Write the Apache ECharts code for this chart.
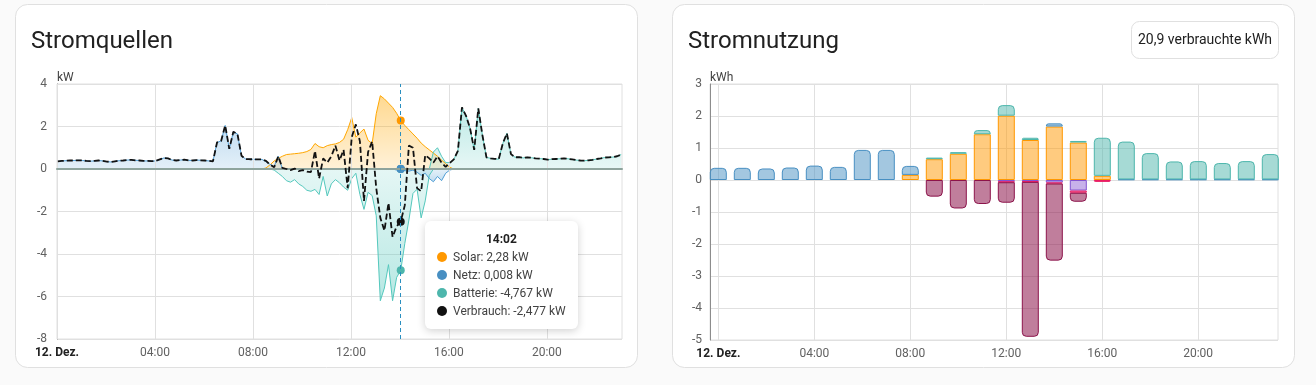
<!DOCTYPE html>
<html><head><meta charset="utf-8">
<script src="https://cdn.jsdelivr.net/npm/echarts@6.0.0/dist/echarts.min.js"></script>
<style>html,body{margin:0;padding:0;background:#fafafa;}#c{width:1316px;height:385px;}</style>
</head><body><div id="c"></div>
<script>
// ---------- Stromquellen (power, kW), 10-minute samples starting 00:02 ----------
const SAMPLE_START_MIN = 2;
const SAMPLE_STEP_MIN = 10;
const TOOLTIP_INDEX = 84; // 14:02

const netz = [
  0.36,0.38,0.39,0.40,0.40,0.41,0.40,0.38,0.37,0.38,
  0.40,0.38,0.35,0.33,0.36,0.39,0.40,0.42,0.43,0.41,
  0.40,0.38,0.38,0.37,0.38,0.45,0.52,0.50,0.42,0.40,
  0.42,0.44,0.41,0.40,0.42,0.41,0.40,0.38,0.36,1.25,
  1.32,2.05,0.95,1.75,1.65,0.62,0.47,0.46,0.46,0.45,
  0.45,0.35,0.22,0.12,0.60,0.02,0,0,0,0,
  0,0,0,0,0,0,0,0,0,0,
  0,0,0,0,0,0,0,0,0,0,
  0,0,0,-0.05,0.008,-0.08,-0.1,-0.05,-0.15,-0.3,
  -0.2,-0.45,-0.6,-0.35,-0.55,-0.2,-0.05,0,0,0,
  0,0,0,0,0,0,0,0,0,0,
  0,0,0,0,0,0,0,0,0,0,
  0,0,0,0,0,0,0,0,0,0,
  0,0,0,0,0,0,0,0,0
];
const solar = [
  0,0,0,0,0,0,0,0,0,0,
  0,0,0,0,0,0,0,0,0,0,
  0,0,0,0,0,0,0,0,0,0,
  0,0,0,0,0,0,0,0,0,0,
  0,0,0,0,0,0,0,0,0,0,
  0,0.05,0.2,0.38,0.5,0.6,0.68,0.7,0.72,0.74,
  0.77,0.82,0.92,1.2,1.05,1.0,1.1,1.15,1.18,1.25,
  1.4,1.85,2.42,1.5,1.7,1.88,1.35,1.2,2.6,3.45,
  3.3,3.1,2.9,2.62,2.28,2.05,1.85,1.65,1.45,1.22,
  1.05,0.9,0.75,0.6,0.42,0.25,0.08,0,0,0,
  0,0,0,0,0,0,0,0,0,0,
  0,0,0,0,0,0,0,0,0,0,
  0,0,0,0,0,0,0,0,0,0,
  0,0,0,0,0,0,0,0,0
];
const batterie = [
  0,0,0,0,0,0,0,0,0,0,
  0,0,0,0,0,0,0,0,0,0,
  0,0,0,0,0,0,0,0,0,0,
  0,0,0,0,0,0,0,0,0,0,
  0,0,0,0,0,0,0,0,0,0,
  0,0,0,-0.05,-0.2,-0.35,-0.55,-0.62,-0.5,-0.7,
  -0.82,-1.0,-1.05,-0.96,-1.2,-0.35,-1.27,-0.7,-0.5,-0.65,
  -0.85,-1.0,-0.45,-0.2,-1.2,-1.9,-1.1,-1.25,-2.2,-6.2,
  -5.6,-4.5,-6.2,-5.1,-4.767,-3.5,-2.4,-1.15,-0.95,-2.3,
  -1.5,-0.3,0.8,1.0,0.6,0.3,0.3,0.45,0.85,2.9,
  2.5,1.9,0.9,2.85,1.6,0.55,0.5,0.48,0.46,1.2,
  1.68,0.7,0.55,0.56,0.52,0.55,0.53,0.5,0.49,0.47,
  0.44,0.46,0.47,0.48,0.5,0.48,0.45,0.42,0.4,0.39,
  0.41,0.43,0.47,0.5,0.54,0.55,0.56,0.6,0.68
];
const verbrauch = [
  0.36,0.38,0.39,0.40,0.40,0.41,0.40,0.38,0.37,0.38,
  0.40,0.38,0.35,0.33,0.36,0.39,0.40,0.42,0.43,0.41,
  0.40,0.38,0.38,0.37,0.38,0.45,0.52,0.50,0.42,0.40,
  0.42,0.44,0.41,0.40,0.42,0.41,0.40,0.38,0.36,1.25,
  1.32,2.05,0.95,1.75,1.65,0.62,0.47,0.46,0.46,0.45,
  0.45,0.38,0.2,0.08,0.6,0.05,0,-0.05,0.02,-0.1,
  -0.05,-0.12,-0.15,0.85,-0.45,0.5,0.3,0.6,1.1,0.4,
  0.9,-0.9,1.5,2.1,1.3,-1.5,0.8,1.3,-0.9,-2.3,
  -2.9,-1.6,-3.2,-2.7,-2.477,-1.7,1.1,1.0,-0.9,-1.05,
  0.65,0.5,0.3,0.6,0.3,0.1,0.28,0.45,0.85,2.9,
  2.5,1.9,0.9,2.85,1.6,0.55,0.5,0.48,0.46,1.2,
  1.68,0.7,0.55,0.56,0.52,0.55,0.53,0.5,0.49,0.47,
  0.44,0.46,0.47,0.48,0.5,0.48,0.45,0.42,0.4,0.39,
  0.41,0.43,0.47,0.5,0.54,0.55,0.56,0.6,0.68
];
const leftTickMinutes = [0, 240, 480, 720, 960, 1200];
const leftTickLabels = ['12. Dez.', '04:00', '08:00', '12:00', '16:00', '20:00'];
const LEFT_X_MAX_MIN = 1384;
const leftYTicks = { min: -8, max: 4, step: 2 };

// ---------- Stromnutzung (energy, kWh per hour) ----------
const hours = [0,1,2,3,4,5,6,7,8,9,10,11,12,13,14,15,16,17,18,19,20,21,22,23];
const usageSolar      = [0,0,0,0,0,0,0,0,0.16,0.65,0.82,1.43,2.01,1.25,1.67,1.17,0.13,0,0,0,0,0,0,0];
const usageNetz       = [0.38,0.38,0.36,0.39,0.45,0.41,0.94,0.94,0.28,0,0,0,0,0,0.1,0,0,0.02,0.02,0.02,0.02,0.02,0.02,0.02];
const usageBatterie   = [0,0,0,0,0,0,0,0,0,0.05,0.05,0.13,0.33,0.07,0,0.05,1.19,1.18,0.82,0.56,0.57,0.51,0.57,0.79];
const usageEinspeisung= [0,0,0,0,0,0,0,0,0,0,0,0,-0.05,-0.04,-0.08,-0.33,0,0,0,0,0,0,0,0];
const usageNetzLaden  = [0,0,0,0,0,0,0,0,0,0,0,0,-0.02,-0.02,-0.03,-0.07,-0.06,0,0,0,0,0,0,0];
const usageLaden      = [0,0,0,0,0,0,0,0,0,-0.52,-0.89,-0.75,-0.64,-4.84,-2.41,-0.28,0,0,0,0,0,0,0,0];
const rightTickHours = [0, 4, 8, 12, 16, 20];
const rightTickLabels = ['12. Dez.', '04:00', '08:00', '12:00', '16:00', '20:00'];
const RIGHT_X_MIN_H = -0.35, RIGHT_X_MAX_H = 23.33;
const rightYTicks = { min: -5, max: 3, step: 1 };
const TOTAL_LABEL = '20,9 verbrauchte kWh';

// ---------- helpers ----------
const FONT = 'Roboto, sans-serif';
const C = { solar:'#ff9800', netz:'#488fc2', batt:'#4db6ac', einsp:'#8353d1', netzLaden:'#e91e63', laden:'#8c144b' };
const times = solar.map((_, i) => SAMPLE_START_MIN + i * SAMPLE_STEP_MIN);
const pad = n => String(n).padStart(2, '0');
const fmtTime = m => pad(Math.floor(m / 60)) + ':' + pad(m % 60);
const pairs = vs => vs.map((v, i) => [times[i], v]);
const pos = a => a.map(v => Math.max(v, 0));
const neg = a => a.map(v => Math.min(v, 0));
function rgba(hex, a) {
  const n = parseInt(hex.slice(1), 16);
  return `rgba(${n >> 16},${(n >> 8) & 255},${n & 255},${a})`;
}
function grad(hex, up, strong, weak) {
  const s = up ? [{ offset: 0, color: rgba(hex, strong) }, { offset: 1, color: rgba(hex, weak) }]
               : [{ offset: 0, color: rgba(hex, weak) }, { offset: 1, color: rgba(hex, strong) }];
  return new echarts.graphic.LinearGradient(0, 0, 0, 1, s);
}
function area(name, data, color, up, strong, weak) {
  return {
    name, type: 'line', xAxisIndex: 0, yAxisIndex: 0, data: pairs(data),
    showSymbol: false, symbol: 'circle', symbolSize: 8,
    lineStyle: { width: 1, color }, itemStyle: { color },
    areaStyle: { color: grad(color, up, strong, weak), origin: 0 },
    emphasis: { scale: false, lineStyle: { width: 1 } }, z: 2
  };
}
const fmtNum = v => String(v).replace('.', ',');

// bars (category grid whose bands line up with the visible hour axis)
const posStack = [['Solar', usageSolar, C.solar, 0.5], ['Netz', usageNetz, C.netz, 0.5], ['Batterie', usageBatterie, C.batt, 0.5]];
const negStack = [['Einspeisung', usageEinspeisung, C.einsp, 0.45], ['Netz → Batterie', usageNetzLaden, C.netzLaden, 0.6], ['Batterie laden', usageLaden, C.laden, 0.55]];
function barSeries(stack, positive) {
  return stack.map(([name, arr, color, alpha], si) => ({
    name, type: 'bar', xAxisIndex: 2, yAxisIndex: 2, stack: 'usage', barWidth: 17,
    itemStyle: { color: rgba(color, alpha), borderColor: color, borderWidth: 1 },
    emphasis: { disabled: true }, tooltip: { show: false },
    data: arr.map((v, i) => {
      if (!v) return '-';
      let last = -1;
      stack.forEach(([, a], k) => { if (a[i]) last = k; });
      const r = 4;
      const br = last === si ? (positive ? [r, r, 0, 0] : [0, 0, r, r]) : 0;
      return { value: v, itemStyle: { borderRadius: br } };
    })
  }));
}

const axisLabelStyle = { color: '#616161', fontSize: 12, fontFamily: FONT };
const boldRich = { d: { fontWeight: 'bold', color: '#212121', fontSize: 12, fontFamily: FONT } };
const chart = echarts.init(document.getElementById('c'), null, { renderer: 'canvas' });
chart.setOption({
  animation: false,
  backgroundColor: '#fafafa',
  textStyle: { fontFamily: FONT },
  graphic: [
    { type: 'rect', z: -5, silent: true, shape: { x: 15.5, y: 4.5, width: 622, height: 363, r: 12 }, style: { fill: '#fff', stroke: '#e0e0e0', lineWidth: 1 } },
    { type: 'rect', z: -5, silent: true, shape: { x: 672.5, y: 4.5, width: 622, height: 363, r: 12 }, style: { fill: '#fff', stroke: '#e0e0e0', lineWidth: 1 } },
    { type: 'text', silent: true, x: 31, y: 42, style: { text: 'Stromquellen', font: '24px ' + FONT, fill: '#212121', verticalAlign: 'middle' } },
    { type: 'text', silent: true, x: 688, y: 42, style: { text: 'Stromnutzung', font: '24px ' + FONT, fill: '#212121', verticalAlign: 'middle' } },
    { type: 'rect', silent: true, shape: { x: 1131.5, y: 21.5, width: 147, height: 37, r: 8 }, style: { fill: '#fff', stroke: '#e0e0e0', lineWidth: 1 } },
    { type: 'text', silent: true, x: 1205, y: 40, style: { text: TOTAL_LABEL, font: '14px ' + FONT, fill: '#212121', align: 'center', verticalAlign: 'middle' } }
  ],
  grid: [
    { left: 57, top: 84, width: 565, height: 255, show: true, borderColor: '#e0e0e0', borderWidth: 1, backgroundColor: 'transparent' },
    { left: 710, top: 84, width: 568, height: 256, show: true, borderColor: '#e0e0e0', borderWidth: 1, backgroundColor: 'transparent' },
    { left: 706.3, top: 84, width: 576, height: 256, show: false }
  ],
  xAxis: [
    {
      gridIndex: 0, type: 'value', min: 0, max: LEFT_X_MAX_MIN, z: 3,
      axisLine: { show: true, onZero: true, lineStyle: { color: '#8ea49d', width: 2 } },
      axisTick: { show: false, customValues: leftTickMinutes },
      splitLine: { show: true, lineStyle: { color: '#e0e0e0' } },
      axisLabel: Object.assign({}, axisLabelStyle, {
        customValues: leftTickMinutes, margin: 8,
        formatter: v => { const i = leftTickMinutes.indexOf(v); return i === 0 ? '{d|' + leftTickLabels[0] + '}' : leftTickLabels[i]; },
        rich: boldRich
      })
    },
    {
      gridIndex: 1, type: 'value', min: RIGHT_X_MIN_H, max: RIGHT_X_MAX_H,
      axisLine: { show: false },
      axisTick: { show: false, customValues: rightTickHours },
      splitLine: { show: true, lineStyle: { color: '#e0e0e0' } },
      axisLabel: Object.assign({}, axisLabelStyle, {
        customValues: rightTickHours, margin: 8,
        formatter: v => { const i = rightTickHours.indexOf(v); return i === 0 ? '{d|' + rightTickLabels[0] + '}' : rightTickLabels[i]; },
        rich: boldRich
      })
    },
    { gridIndex: 2, type: 'category', data: hours, boundaryGap: true, show: false }
  ],
  yAxis: [
    {
      gridIndex: 0, type: 'value', min: leftYTicks.min, max: leftYTicks.max, interval: leftYTicks.step,
      name: 'kW', nameLocation: 'end', nameGap: 0,
      nameTextStyle: { align: 'left', color: '#424242', fontSize: 12, fontFamily: FONT },
      axisLine: { show: true, onZero: false, lineStyle: { color: '#8c8c8c' } },
      axisTick: { show: false },
      splitLine: { lineStyle: { color: '#e0e0e0' } },
      axisLabel: Object.assign({}, axisLabelStyle, { margin: 10 })
    },
    {
      gridIndex: 1, type: 'value', min: rightYTicks.min, max: rightYTicks.max, interval: rightYTicks.step,
      name: 'kWh', nameLocation: 'end', nameGap: 0,
      nameTextStyle: { align: 'left', color: '#424242', fontSize: 12, fontFamily: FONT },
      axisLine: { show: true, onZero: false, lineStyle: { color: '#8c8c8c' } },
      axisTick: { show: false },
      splitLine: { lineStyle: { color: '#e0e0e0' } },
      axisLabel: Object.assign({}, axisLabelStyle, { margin: 8 })
    },
    { gridIndex: 2, type: 'value', min: rightYTicks.min, max: rightYTicks.max, show: false, splitLine: { show: false } }
  ],
  tooltip: {
    trigger: 'axis', triggerOn: 'none', alwaysShowContent: true,
    position: [425, 221],
    backgroundColor: '#fff', borderWidth: 0, padding: [9, 12],
    extraCssText: 'box-shadow:0 2px 8px rgba(0,0,0,0.18);border-radius:6px;line-height:18px;',
    textStyle: { fontFamily: FONT, fontSize: 12, color: '#424242' },
    axisPointer: { type: 'line', lineStyle: { color: '#2a8fc0', type: [4, 3], width: 1 } },
    formatter: params => {
      const i = params[0].dataIndex;
      const dot = c => `<span style="display:inline-block;width:10px;height:10px;border-radius:50%;background:${c};margin-right:6px;vertical-align:-1px"></span>`;
      const rows = [['Solar', solar[i], C.solar], ['Netz', netz[i], C.netz], ['Batterie', batterie[i], C.batt], ['Verbrauch', verbrauch[i], '#111']];
      return `<div style="text-align:center;font-weight:bold;color:#212121">${fmtTime(times[i])}</div>` +
        rows.map(([n, v, c]) => `<div>${dot(c)}${n}: ${fmtNum(v)} kW</div>`).join('');
    }
  },
  series: [
    area('Solar', solar, C.solar, true, 0.62, 0.22),
    area('Batterie', pos(batterie), C.batt, true, 0.55, 0.2),
    area('Batterie ', neg(batterie), C.batt, false, 0.6, 0.22),
    area('Netz', pos(netz), C.netz, true, 0.5, 0.22),
    area('Netz ', neg(netz), C.netz, false, 0.5, 0.2),
    {
      name: 'Verbrauch', type: 'line', xAxisIndex: 0, yAxisIndex: 0, data: pairs(verbrauch),
      showSymbol: false, symbol: 'circle', symbolSize: 8,
      lineStyle: { color: '#111', width: 1.8, type: [6, 3] }, itemStyle: { color: '#111' },
      emphasis: { scale: false, lineStyle: { width: 1.8 } }, z: 4
    },
    ...barSeries(posStack, true),
    ...barSeries(negStack, false)
  ]
});
chart.dispatchAction({ type: 'showTip', seriesIndex: 0, dataIndex: TOOLTIP_INDEX });
</script></body></html>
